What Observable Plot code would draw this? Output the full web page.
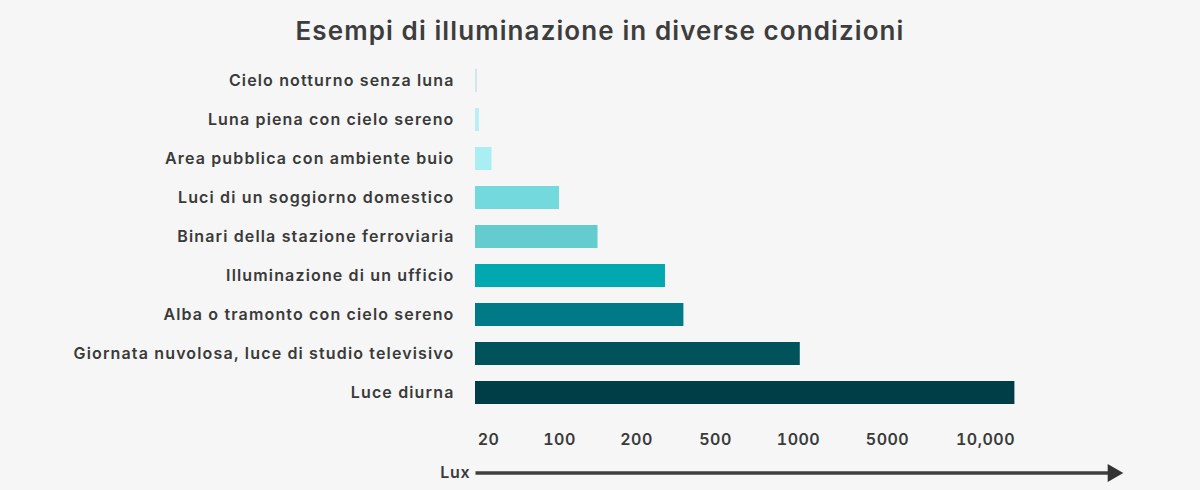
<!DOCTYPE html>
<html>
<head>
<meta charset="utf-8">
<script src="https://cdn.jsdelivr.net/npm/d3@7"></script>
<script src="https://cdn.jsdelivr.net/npm/@observablehq/plot@0.6"></script>
<style>
  html, body { margin: 0; padding: 0; background: #f5f6f5; }
  #title {
    width: 1200px; height: 55px; box-sizing: border-box; padding-top: 18px;
    text-align: center; font-family: Inter, sans-serif; font-weight: 600;
    font-size: 26px; line-height: 26px; color: #3d3d3d; letter-spacing: 1.1px;
  }
  #chart svg { display: block; }
  #chart svg g[aria-label="y-axis tick label"] text { letter-spacing: 1.15px; }
  #chart svg g[aria-label="x-axis tick label"] text { letter-spacing: 0.5px; }
  #chart svg g[aria-label="text"] text { letter-spacing: 0.8px; }
</style>
</head>
<body>
<div id="title">Esempi di illuminazione in diverse condizioni</div>
<div id="chart"></div>
<script>
// Categories (top to bottom)
const categories = [
  "Cielo notturno senza luna",
  "Luna piena con cielo sereno",
  "Area pubblica con ambiente buio",
  "Luci di un soggiorno domestico",
  "Binari della stazione ferroviaria",
  "Illuminazione di un ufficio",
  "Alba o tramonto con cielo sereno",
  "Giornata nuvolosa, luce di studio televisivo",
  "Luce diurna"
];
// Lux values as read against the chart's custom axis
const luxValues = [3, 6, 24, 100, 150, 310, 380, 1080, 11500];
// Bar colours
const barColors = ["#d0e6e9", "#b8eff4", "#a9eef3", "#73d9dc", "#64cccf", "#00a9b0", "#007a87", "#01535b", "#003e47"];
// Axis ticks
const tickValues = [20, 100, 200, 500, 1000, 5000, 10000];
const tickLabels = ["20", "100", "200", "500", "1000", "5000", "10,000"];
const axisEndLux = 16500;

const data = categories.map((name, i) => ({name, lux: luxValues[i], color: barColors[i]}));
const last = categories[categories.length - 1];

const chart = Plot.plot({
  width: 1200,
  height: 435,
  marginLeft: 475,
  marginRight: 75,
  marginTop: 4,
  marginBottom: 76,
  style: {background: "transparent", fontFamily: "Inter, sans-serif", fontSize: "16px", color: "#3a3a3a"},
  x: {type: "linear", domain: [0, ...tickValues], range: [475, 488, 559, 636, 715, 798, 887, 985], clamp: false},
  y: {domain: categories, paddingInner: 0.42, paddingOuter: 0.21},
  color: {type: "identity"},
  marks: [
    Plot.barX(data, {x: "lux", y: "name", fill: "color"}),
    Plot.axisY({tickSize: 0, tickPadding: 21, label: null, fontSize: 16, fontWeight: 600, fill: "#3a3a3a"}),
    Plot.axisX({ticks: tickValues, tickFormat: d => tickLabels[tickValues.indexOf(d)], tickSize: 0, tickPadding: 19, label: null, fontSize: 16, fontWeight: 600, fill: "#3a3a3a"}),
    Plot.link([{x1: 0, x2: axisEndLux, y: last}], {x1: "x1", x2: "x2", y1: "y", y2: "y", dy: 80, stroke: "#3f3f3f", strokeWidth: 3.5}),
    Plot.dot([{x: axisEndLux, y: last}], {x: "x", y: "y", dy: 80, symbol: "triangle", rotate: 90, r: 6.7, fill: "#333", stroke: null}),
    Plot.text([{x: 0, y: last}], {x: "x", y: "y", dy: 80, dx: -5, text: () => "Lux", textAnchor: "end", fontSize: 16, fontWeight: 600, fill: "#3a3a3a"})
  ]
});
document.getElementById("chart").appendChild(chart);
</script>
</body>
</html>
